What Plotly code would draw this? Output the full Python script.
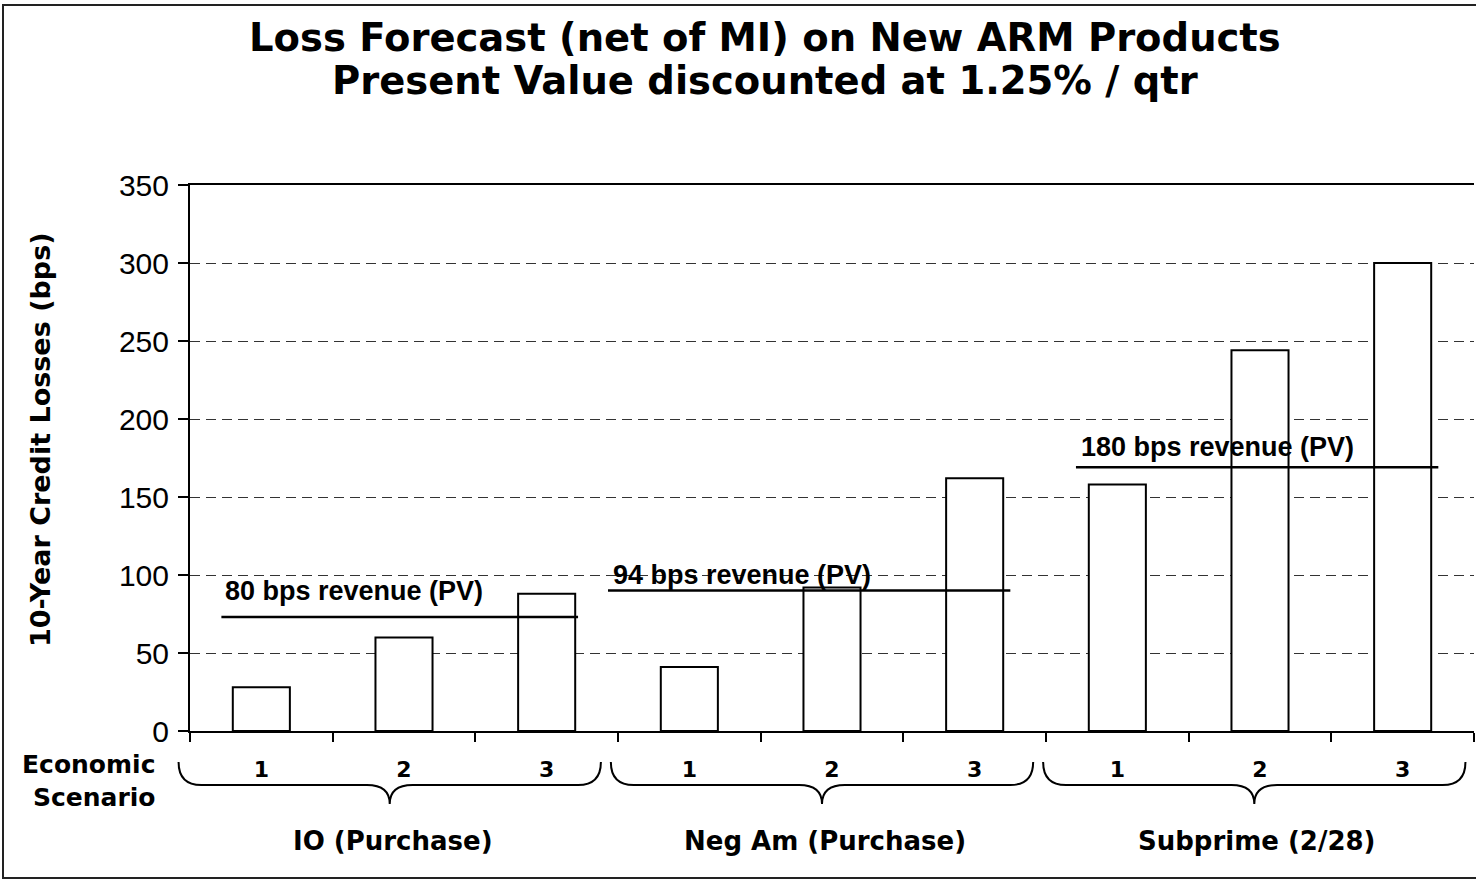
import plotly.graph_objects as go

# data
groups = ['IO (Purchase)', 'Neg Am (Purchase)', 'Subprime (2/28)']
scenarios = ['1', '2', '3']
io_losses = [28, 60, 88]
negam_losses = [41, 92, 162]
subprime_losses = [158, 244, 300]

revenue_labels = ['80 bps revenue (PV)', '94 bps revenue (PV)', '180 bps revenue (PV)']
revenue_level = [73, 90, 169]
revenue_x0 = [-0.28, 2.43, 5.71]
revenue_x1 = [2.22, 5.25, 8.25]
label_x = [-0.27, 2.45, 5.73]
label_y = [90, 100, 182]

y_ticks = [0, 50, 100, 150, 200, 250, 300, 350]

FONT = 'Liberation Sans, Arial, sans-serif'
BOLD_WIDE = 'DejaVu Sans, Verdana, sans-serif'

losses = io_losses + negam_losses + subprime_losses
xpos = list(range(len(losses)))
tick_text = scenarios * len(groups)
x_lo, x_hi = -0.5, len(losses) - 0.5

fig = go.Figure()

fig.add_trace(go.Bar(
    x=xpos,
    y=losses,
    width=0.4,
    marker=dict(color='white', line=dict(color='black', width=2)),
    showlegend=False,
    hoverinfo='y'
))

for i in range(len(groups)):
    fig.add_trace(go.Scatter(
        x=[revenue_x0[i], revenue_x1[i]],
        y=[revenue_level[i], revenue_level[i]],
        mode='lines',
        line=dict(color='black', width=2.5),
        showlegend=False,
        hoverinfo='skip'
    ))
    fig.add_annotation(
        x=label_x[i], y=label_y[i], xref='x', yref='y',
        text='<b>' + revenue_labels[i] + '</b>',
        showarrow=False, xanchor='left', yanchor='middle',
        font=dict(family=FONT, size=27, color='black')
    )

# braces under each group of scenarios (paper coords so they are not clipped)
def to_paper(px_from_axis):
    return -px_from_axis / 546.0

def xp(v):
    return (v - x_lo) / (x_hi - x_lo)

y_end = to_paper(31)
y_mid = to_paper(54)
y_tip = to_paper(73)
for g in range(len(groups)):
    xc = 3 * g + 1 - 0.1 + 0.03 * g
    xl = xc - 1.48
    xr = xc + 1.48
    r = 0.16
    path = (
        f'M {xp(xl)},{y_end} Q {xp(xl)},{y_mid} {xp(xl + r)},{y_mid} '
        f'L {xp(xc - r)},{y_mid} Q {xp(xc)},{y_mid} {xp(xc)},{y_tip} '
        f'Q {xp(xc)},{y_mid} {xp(xc + r)},{y_mid} '
        f'L {xp(xr - r)},{y_mid} Q {xp(xr)},{y_mid} {xp(xr)},{y_end}'
    )
    fig.add_shape(type='path', path=path, xref='paper', yref='paper',
                  line=dict(color='black', width=2))
    fig.add_annotation(
        x=xc + 0.02, y=to_paper(110), xref='x', yref='paper',
        text='<b>' + groups[g] + '</b>', showarrow=False,
        xanchor='center', yanchor='middle',
        font=dict(family=BOLD_WIDE, size=26, color='black')
    )

fig.add_annotation(
    x=-33 / 1284, y=to_paper(50), xref='paper', yref='paper',
    text='<b>Economic<br>Scenario</b>', showarrow=False,
    xanchor='right', yanchor='middle', align='right',
    font=dict(family=BOLD_WIDE, size=25, color='black')
)

fig.add_annotation(
    x=-150 / 1284, y=291 / 546, xref='paper', yref='paper',
    text='<b>10-Year Credit Losses (bps)</b>', showarrow=False,
    textangle=-90, xanchor='center', yanchor='middle',
    font=dict(family=BOLD_WIDE, size=27, color='black')
)

fig.add_annotation(
    x=0.4478, y=1.271, xref='paper', yref='paper',
    text='<b>Loss Forecast (net of MI) on New ARM Products</b>',
    showarrow=False, xanchor='center', yanchor='middle',
    font=dict(family=BOLD_WIDE, size=38.5, color='black')
)
fig.add_annotation(
    x=0.4478, y=1.192, xref='paper', yref='paper',
    text='<b>Present Value discounted at 1.25% / qtr</b>',
    showarrow=False, xanchor='center', yanchor='middle',
    font=dict(family=BOLD_WIDE, size=38.5, color='black')
)

# outer frame
fig.add_shape(type='rect', xref='paper', yref='paper',
              x0=-187 / 1284, x1=1.05, y0=to_paper(147), y1=726 / 546,
              line=dict(color='#222222', width=2))

fig.update_xaxes(
    range=[x_lo, x_hi],
    tickvals=xpos,
    ticktext=tick_text,
    ticks='',
    ticklabelstandoff=18,
    tickfont=dict(family=BOLD_WIDE, size=22, color='black', weight='bold'),
    showline=True, linecolor='black', linewidth=2, mirror=True,
    showgrid=False, zeroline=False,
    minor=dict(tickvals=[i - 0.5 for i in range(len(losses) + 1)],
               ticks='outside', ticklen=9, tickcolor='black', tickwidth=1.5)
)

fig.update_yaxes(
    range=[0, 350],
    tickvals=y_ticks,
    ticks='outside', ticklen=10, tickcolor='black', tickwidth=1.5,
    ticklabelstandoff=3,
    tickfont=dict(family=FONT, size=30, color='black'),
    showline=True, linecolor='black', linewidth=2,
    showgrid=True, gridcolor='#333333', gridwidth=1, griddash='10px,6px',
    zeroline=False
)

fig.update_layout(
    width=1476,
    height=880,
    margin=dict(l=190, r=2, t=185, b=149),
    paper_bgcolor='white',
    plot_bgcolor='white',
    showlegend=False,
    font=dict(family=FONT, color='black')
)

fig.write_html("out.html", config={'displayModeBar': False},
               post_script="document.body.style.margin='0px';")
